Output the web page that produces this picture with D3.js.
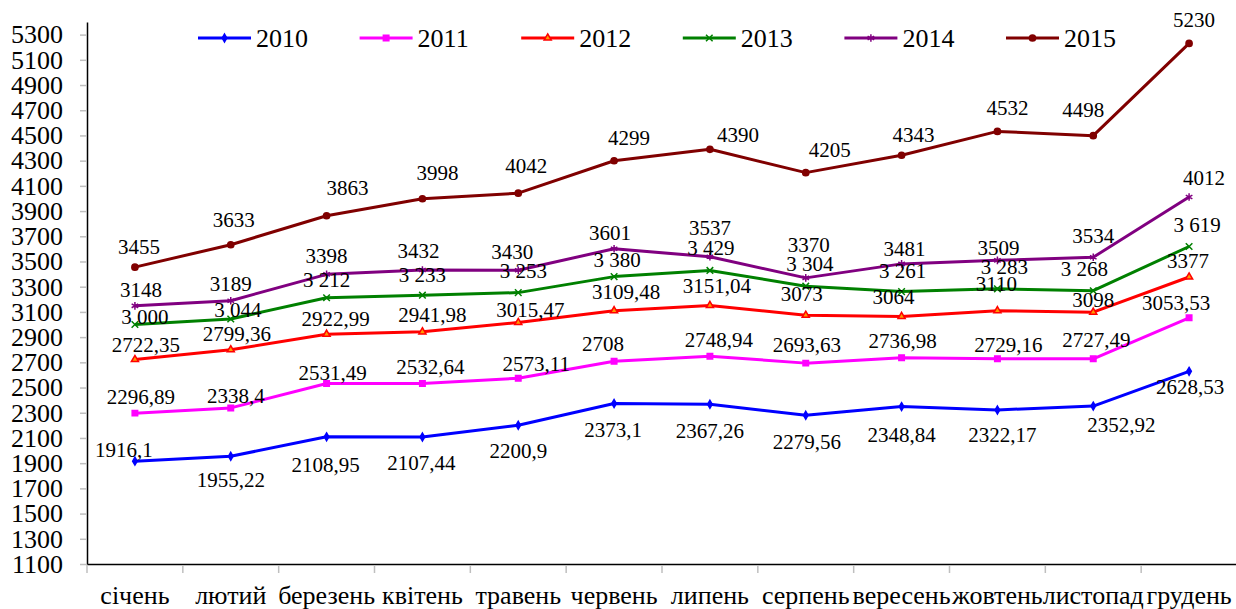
<!DOCTYPE html>
<meta charset="utf-8">
<style>
body { margin: 0; background: #ffffff; }
</style>
<script>
// ask for the serif face as early as possible
if (document.fonts) { document.fonts.load("26px 'Liberation Serif'"); }
</script>
<body>
<svg width="1" height="1" style="position:absolute; left:0; top:0; visibility:hidden"><text x="0" y="0" font-family="Liberation Serif" font-size="26">0123456789 січень</text></svg>
<script src="https://d3js.org/d3.v7.min.js"></script>

<div id="chart"></div>

<script>

// months on the x axis
var months = ["січень", "лютий", "березень", "квітень", "травень", "червень",
              "липень", "серпень", "вересень", "жовтень", "листопад", "грудень"];

// y axis ticks
var yTicks = d3.range(1100, 5301, 200);

// series values
var years = ["2010", "2011", "2012", "2013", "2014", "2015"];
var v2010 = [1916.1, 1955.22, 2108.95, 2107.44, 2200.9, 2373.1, 2367.26, 2279.56, 2348.84, 2322.17, 2352.92, 2628.53];
var v2011 = [2296.89, 2338.4, 2531.49, 2532.64, 2573.11, 2708, 2748.94, 2693.63, 2736.98, 2729.16, 2727.49, 3053.53];
var v2012 = [2722.35, 2799.36, 2922.99, 2941.98, 3015.47, 3109.48, 3151.04, 3073, 3064, 3110, 3098, 3377];
var v2013 = [3000, 3044, 3212, 3233, 3253, 3380, 3429, 3304, 3261, 3283, 3268, 3619];
var v2014 = [3148, 3189, 3398, 3432, 3430, 3601, 3537, 3370, 3481, 3509, 3534, 4012];
var v2015 = [3455, 3633, 3863, 3998, 4042, 4299, 4390, 4205, 4343, 4532, 4498, 5230];

// label nudges (dx, dy from the point), as the labels were placed by hand
var nudge2010 = [[-11,-4],[0,31],[-1,35],[-1,33],[0,33],[-1,33],[0,34],[1,34],[0,35],[5,32],[28,26],[1,23]];
var nudge2011 = [[6,-9],[5,-5],[6,-4],[8,-9],[18,-7],[-11,-10],[9,-9],[1,-11],[1,-10],[11,-7],[3,-12],[-13,-8]];
var nudge2012 = [[11,-8],[6,-9],[9,-8],[10,-10],[12,-6],[12,-12],[7,-12],[-4,-14],[-8,-12],[-1,-20],[0,-5],[-1,-9]];
var nudge2013 = [[10,-1],[7,-2],[0,-11],[0,-13],[5,-15],[3,-10],[1,-15],[4,-15],[1,-14],[7,-15],[-9,-15],[8,-14]];
var nudge2014 = [[6,-9],[0,-10],[0,-11],[-4,-12],[-6,-11],[-4,-9],[0,-22],[3,-26],[3,-8],[1,-5],[0,-14],[15,-12]];
var nudge2015 = [[4,-13],[3,-18],[21,-21],[15,-19],[8,-20],[15,-16],[28,-7],[24,-16],[12,-13],[10,-16],[-10,-19],[5,-16]];

var commaFmt = function(v) { return String(v).replace(".", ","); };
var spaceFmt = function(v) { return d3.format(",")(v).replace(",", " "); };
var plainFmt = function(v) { return String(v); };

var series = [
  {name: years[0], values: v2010, nudge: nudge2010, color: "#0000ff", fill: "#0000ff", symbol: d3.symbolDiamond, size: 18, fmt: commaFmt},
  {name: years[1], values: v2011, nudge: nudge2011, color: "#ff00ff", fill: "#ff00ff", symbol: d3.symbolSquare, size: 30, fmt: commaFmt},
  {name: years[2], values: v2012, nudge: nudge2012, color: "#ff0000", fill: "#ff9900", symbol: d3.symbolTriangle, size: 22, fmt: commaFmt},
  {name: years[3], values: v2013, nudge: nudge2013, color: "#008000", fill: "none", symbol: d3.symbolX, size: 30, fmt: spaceFmt},
  {name: years[4], values: v2014, nudge: nudge2014, color: "#800080", fill: "none", symbol: d3.symbolAsterisk, size: 40, fmt: plainFmt},
  {name: years[5], values: v2015, nudge: nudge2015, color: "#800000", fill: "#800000", symbol: d3.symbolCircle, size: 30, fmt: plainFmt}
];

var width = 1236, height = 609;
var plotLeft = 87, plotRight = 1237, plotTop = 22, plotBottom = 564;
var FONT = "Liberation Serif";

function build() {
  // build the chart in a detached svg, then put its markup into the page
  var svg = d3.create("svg")
      .attr("xmlns", "http://www.w3.org/2000/svg")
      .attr("width", width)
      .attr("height", height)
      .attr("font-family", FONT);

  var x = d3.scaleBand()
    .domain(months)
    .range([plotLeft, plotRight]);

  var y = d3.scaleLinear()
    .domain([1100, 5400])
    .range([plotBottom, plotTop]);

  // Y axis
  var yAxis = svg.append("g")
    .attr("transform", "translate(" + plotLeft + ",0)")
    .call(d3.axisLeft(y).tickValues(yTicks).tickFormat(d3.format("d"))
      .tickSize(7).tickSizeOuter(0).tickPadding(17));
  yAxis.attr("font-family", FONT).attr("font-size", null);
  yAxis.select(".domain").attr("stroke", "#000").attr("stroke-width", 1.5);
  yAxis.selectAll(".tick line").attr("stroke", "#bfbfbf").attr("stroke-width", 1.5);
  yAxis.selectAll(".tick text")
    .attr("font-family", FONT)
    .attr("font-size", "26")
    .attr("fill", "#000");

  // X axis
  var xAxis = svg.append("g")
    .attr("transform", "translate(0," + plotBottom + ")")
    .call(d3.axisBottom(x).tickSize(0).tickSizeOuter(0).tickPadding(22));
  xAxis.attr("font-family", FONT).attr("font-size", null);
  xAxis.select(".domain").attr("stroke", "#000").attr("stroke-width", 1.5);
  xAxis.selectAll(".tick text")
    .attr("font-family", FONT)
    .attr("font-size", "26")
    .attr("fill", "#000");

  // tick marks between the months
  svg.append("g")
    .selectAll("line")
    .data(months)
    .enter()
    .append("line")
      .attr("x1", function(d) { return x(d); })
      .attr("x2", function(d) { return x(d); })
      .attr("y1", plotBottom + 1)
      .attr("y2", plotBottom + 9)
      .attr("stroke", "#bfbfbf")
      .attr("stroke-width", 1.5);

  var line = d3.line()
    .x(function(d, i) { return x(months[i]) + x.bandwidth() / 2; })
    .y(function(d) { return y(d); });

  series.forEach(function(s) {
    var g = svg.append("g");

    g.append("path")
      .attr("d", line(s.values))
      .attr("fill", "none")
      .attr("stroke", s.color)
      .attr("stroke-width", 3)
      .attr("stroke-linejoin", "round");

    g.selectAll(".pt")
      .data(s.values)
      .enter()
      .append("path")
        .attr("class", "pt")
        .attr("transform", function(d, i) {
          return "translate(" + (x(months[i]) + x.bandwidth() / 2) + "," + y(d) + ")";
        })
        .attr("d", d3.symbol().type(s.symbol).size(s.size))
        .attr("fill", s.fill)
        .attr("stroke", s.color)
        .attr("stroke-width", 1.5);
  });

  // data labels, drawn on top
  series.forEach(function(s) {
    svg.append("g")
      .selectAll("text")
      .data(s.values)
      .enter()
      .append("text")
        .attr("x", function(d, i) { return x(months[i]) + x.bandwidth() / 2 + s.nudge[i][0]; })
        .attr("y", function(d, i) { return y(d) + s.nudge[i][1]; })
        .attr("text-anchor", "middle")
        .attr("font-family", FONT)
        .attr("font-size", "21")
        .attr("fill", "#000")
        .text(function(d) { return s.fmt(d); });
  });

  // legend
  var legend = svg.append("g")
    .selectAll("g")
    .data(series)
    .enter()
    .append("g")
      .attr("transform", function(d, i) { return "translate(" + (198 + i * 161.6) + ",38)"; });

  legend.append("line")
    .attr("x1", 0)
    .attr("x2", 53)
    .attr("stroke", function(d) { return d.color; })
    .attr("stroke-width", 3);

  legend.append("path")
    .attr("transform", "translate(26.5,0)")
    .attr("d", function(d) { return d3.symbol().type(d.symbol).size(d.size)(); })
    .attr("fill", function(d) { return d.fill; })
    .attr("stroke", function(d) { return d.color; })
    .attr("stroke-width", 1.5);

  legend.append("text")
    .attr("x", 58)
    .attr("y", 9)
    .attr("font-family", FONT)
    .attr("font-size", "26")
    .attr("fill", "#000")
    .text(function(d) { return d.name; });

  document.getElementById("chart").innerHTML = svg.node().outerHTML;
}

build();
if (document.fonts) {
  document.fonts.ready.then(build);
}

</script>
</body>
